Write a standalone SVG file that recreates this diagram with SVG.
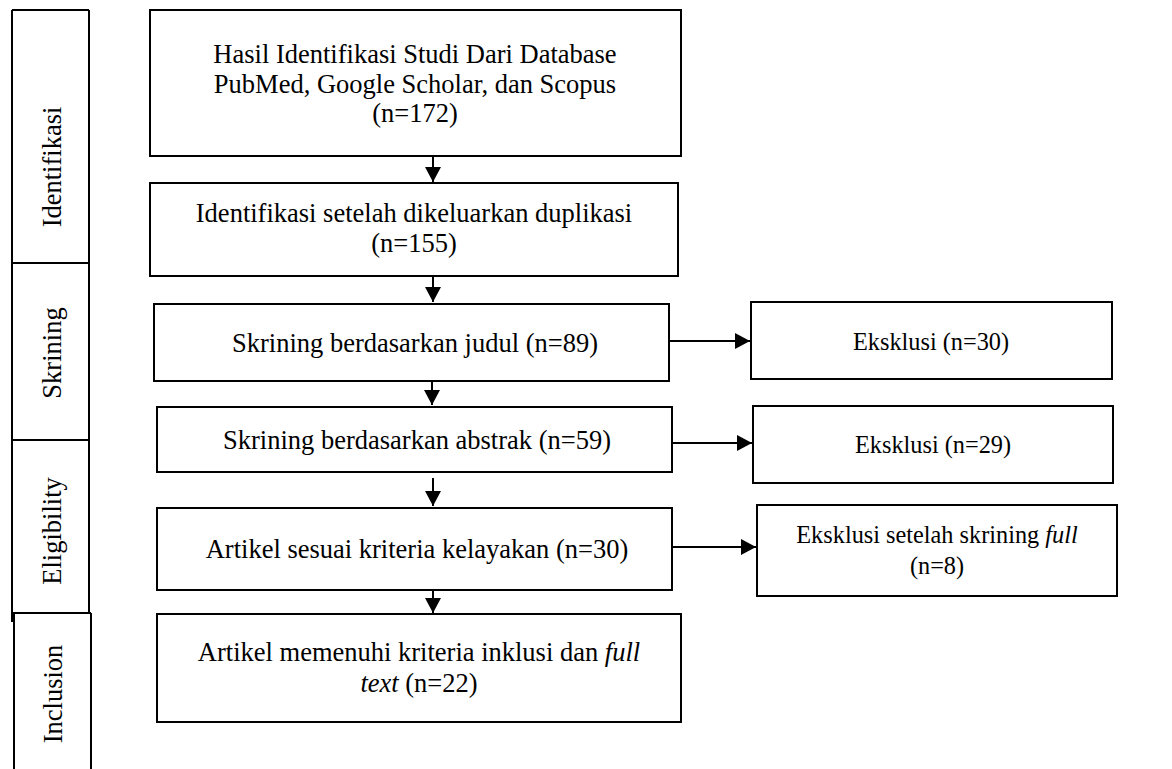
<svg xmlns="http://www.w3.org/2000/svg" width="1172" height="769" viewBox="0 0 1172 769">
<style>
.box{fill:#fff;stroke:#000;stroke-width:2}
.ln{fill:none;stroke:#000;stroke-width:2}
.t{font-family:"Liberation Serif","Times New Roman",serif;font-size:26.5px;fill:#000;text-anchor:middle}
.s{font-family:"Liberation Serif","Times New Roman",serif;font-size:24.3px;fill:#000;text-anchor:middle}
.i{font-style:italic}
</style>
<defs>
<marker id="ah" markerWidth="8" markerHeight="8" refX="7.5" refY="4" orient="auto" markerUnits="userSpaceOnUse" viewBox="0 0 8 8">
<path d="M0,0 L8,4 L0,8 Z" fill="#000"/>
</marker>
<marker id="av" viewBox="0 0 16 16" refX="15" refY="8" markerWidth="16" markerHeight="16" orient="auto" markerUnits="userSpaceOnUse">
<path d="M0,0 L15,8 L0,16 Z" fill="#000"/>
</marker>
</defs>
<rect width="1172" height="769" fill="#fff"/>
<g id="stages">
<path class="ln" d="M12,10 V622 M89,10 V613 M12,10 H89 M12,263 H89 M12,440 H89 M12,613 H91 M14,613 V769 M91,613 V769"/>
<text class="t" transform="translate(61,167) rotate(-90)">Identifikasi</text>
<text class="t" transform="translate(61,353) rotate(-90)">Skrining</text>
<text class="t" transform="translate(61,531) rotate(-90)">Eligibility</text>
<text class="t" transform="translate(62,694) rotate(-90)">Inclusion</text>
</g>
<g id="connectors">
<path class="ln" d="M433,156 V182" marker-end="url(#av)"/>
<path class="ln" d="M433,277 V302" marker-end="url(#av)"/>
<path class="ln" d="M432,380 V405" marker-end="url(#av)"/>
<path class="ln" d="M433,478 V506" marker-end="url(#av)"/>
<path class="ln" d="M433,590 V613" marker-end="url(#av)"/>
<path class="ln" d="M668,341 H750" marker-end="url(#av)"/>
<path class="ln" d="M672,443 H752" marker-end="url(#av)"/>
<path class="ln" d="M672,547 H756" marker-end="url(#av)"/>
</g>
<g id="n1">
<rect class="box" x="150" y="10" width="531" height="146"/>
<text class="t" x="415" y="63">Hasil Identifikasi Studi Dari Database</text>
<text class="t" x="415" y="93">PubMed, Google Scholar, dan Scopus</text>
<text class="t" x="415" y="122">(n=172)</text>
</g>
<g id="n2">
<rect class="box" x="150" y="183" width="528" height="93"/>
<text class="t" x="414" y="222">Identifikasi setelah dikeluarkan duplikasi</text>
<text class="t" x="414" y="252">(n=155)</text>
</g>
<g id="n3">
<rect class="box" x="154" y="304" width="515" height="77"/>
<text class="t" x="415" y="352">Skrining berdasarkan judul (n=89)</text>
</g>
<g id="n4">
<rect class="box" x="157" y="407" width="515" height="65"/>
<text class="t" x="417" y="449">Skrining berdasarkan abstrak (n=59)</text>
</g>
<g id="n5">
<rect class="box" x="157" y="508" width="515" height="82"/>
<text class="t" x="417" y="558">Artikel sesuai kriteria kelayakan (n=30)</text>
</g>
<g id="n6">
<rect class="box" x="157" y="614" width="524" height="108"/>
<text class="t" x="419" y="661">Artikel memenuhi kriteria inklusi dan <tspan class="i">full</tspan></text>
<text class="t" x="419" y="692"><tspan class="i">text</tspan> (n=22)</text>
</g>
<g id="e1">
<rect class="box" x="751" y="302" width="361" height="77"/>
<text class="s" x="931" y="350">Eksklusi (n=30)</text>
</g>
<g id="e2">
<rect class="box" x="753" y="406" width="360" height="77"/>
<text class="s" x="933" y="453">Eksklusi (n=29)</text>
</g>
<g id="e3">
<rect class="box" x="757" y="505" width="360" height="91"/>
<text class="s" x="937" y="543">Eksklusi setelah skrining <tspan class="i">full</tspan></text>
<text class="s" x="937" y="574">(n=8)</text>
</g>
</svg>
